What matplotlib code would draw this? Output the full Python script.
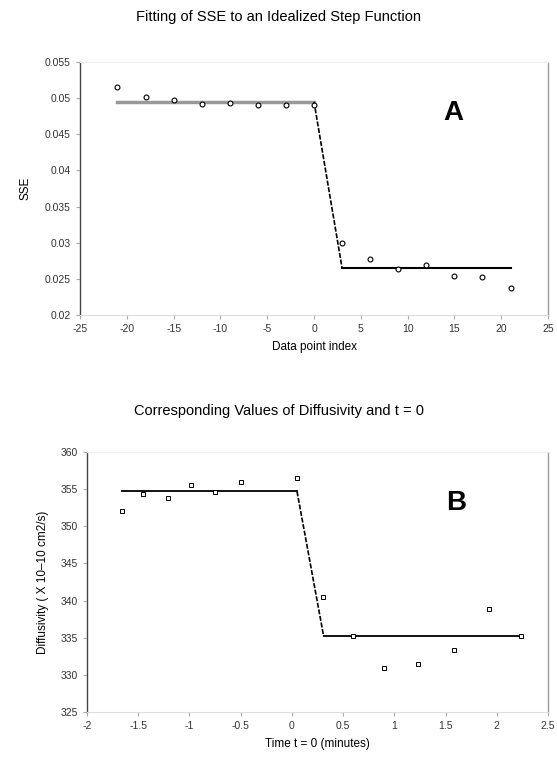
import matplotlib.pyplot as plt
import numpy as np

plt.rcParams['font.family'] = ['Liberation Sans', 'DejaVu Sans']
plt.rcParams['axes.unicode_minus'] = False

# panel A: SSE vs data point index
sse_idx = [-21, -18, -15, -12, -9, -6, -3, 0, 3, 6, 9, 12, 15, 18, 21]
sse_val = [0.0516, 0.0501, 0.0498, 0.0492, 0.0493, 0.0490, 0.0490, 0.0490,
           0.0300, 0.0278, 0.0263, 0.0269, 0.0254, 0.0252, 0.0237]
step_a_x = [-21, 0, 3, 21]
step_a_y = [0.0495, 0.0495, 0.0265, 0.0265]

# panel B: diffusivity vs time t = 0
t0 = [-1.66, -1.45, -1.21, -0.98, -0.75, -0.50, 0.05, 0.30,
      0.60, 0.90, 1.23, 1.58, 1.92, 2.24]
diff = [352.0, 354.3, 353.8, 355.5, 354.6, 356.0, 356.5, 340.5,
        335.2, 330.9, 331.4, 333.3, 338.9, 335.2]
step_b_x = [-1.66, 0.05, 0.31, 2.22]
step_b_y = [354.7, 354.7, 335.2, 335.2]


def style_axes(ax):
    ax.spines['left'].set_color('#444444')
    ax.spines['left'].set_linewidth(1.0)
    ax.spines['right'].set_color('#999999')
    ax.spines['right'].set_linewidth(1.0)
    ax.spines['top'].set_color('#eeeeee')
    ax.spines['bottom'].set_color('#dddddd')
    ax.tick_params(axis='both', labelsize=7.5, colors='#aaaaaa', labelcolor='#333333',
                   length=3, width=0.8, direction='out')


fig = plt.figure(figsize=(5.57, 7.59), dpi=100)

ax1 = fig.add_axes([80 / 557, 1 - 315 / 759, 468 / 557, 253 / 759])
ax1.plot(step_a_x[:2], step_a_y[:2], color='#999999', lw=2.5, zorder=1)
ax1.plot(step_a_x[1:3], step_a_y[1:3], color='black', lw=1.2, ls=(0, (3, 1)), zorder=1)
ax1.plot(step_a_x[2:], step_a_y[2:], color='black', lw=1.5, zorder=1)
ax1.plot(sse_idx, sse_val, ls='none', marker='o', ms=3.5, mfc='white', mec='black',
         mew=0.8, zorder=2)
ax1.set_xlim(-25, 25)
ax1.set_ylim(0.02, 0.055)
ax1.set_xticks(np.arange(-25, 26, 5))
ax1.set_yticks([0.02, 0.025, 0.03, 0.035, 0.04, 0.045, 0.05, 0.055])
ax1.set_yticklabels(['0.02', '0.025', '0.03', '0.035', '0.04', '0.045', '0.05', '0.055'])
style_axes(ax1)
ax1.set_xlabel('Data point index', fontsize=8.5, labelpad=5)
ax1.set_ylabel('SSE', fontsize=8.5, labelpad=10)
ax1.text(14.9, 0.048, 'A', fontsize=20, fontweight='bold', ha='center', va='center')
fig.text(0.5, 1 - 17 / 759, 'Fitting of SSE to an Idealized Step Function',
         ha='center', va='center', fontsize=10.5)

ax2 = fig.add_axes([87 / 557, 1 - 712 / 759, 461 / 557, 260 / 759])
ax2.plot(step_b_x[:2], step_b_y[:2], color='black', lw=1.3, zorder=1)
ax2.plot(step_b_x[1:3], step_b_y[1:3], color='black', lw=1.2, ls=(0, (3, 1)), zorder=1)
ax2.plot(step_b_x[2:], step_b_y[2:], color='black', lw=1.3, zorder=1)
ax2.plot(t0, diff, ls='none', marker='s', ms=3, mfc='white', mec='black',
         mew=0.7, zorder=2)
ax2.set_xlim(-2, 2.5)
ax2.set_ylim(325, 360)
ax2.set_xticks(np.arange(-2, 2.51, 0.5))
ax2.set_xticklabels(['-2', '-1.5', '-1', '-0.5', '0', '0.5', '1', '1.5', '2', '2.5'])
ax2.set_yticks(np.arange(325, 361, 5))
style_axes(ax2)
ax2.set_xlabel('Time t = 0 (minutes)', fontsize=8.5, labelpad=5)
ax2.set_ylabel('Diffusivity ( X 10\u201310 cm2/s)', fontsize=8.5, labelpad=8)
ax2.text(1.6, 353.1, 'B', fontsize=20, fontweight='bold', ha='center', va='center')
fig.text(0.5, 1 - 411 / 759, 'Corresponding Values of Diffusivity and t = 0',
         ha='center', va='center', fontsize=10.5)

fig.savefig('out.png', dpi=100)
